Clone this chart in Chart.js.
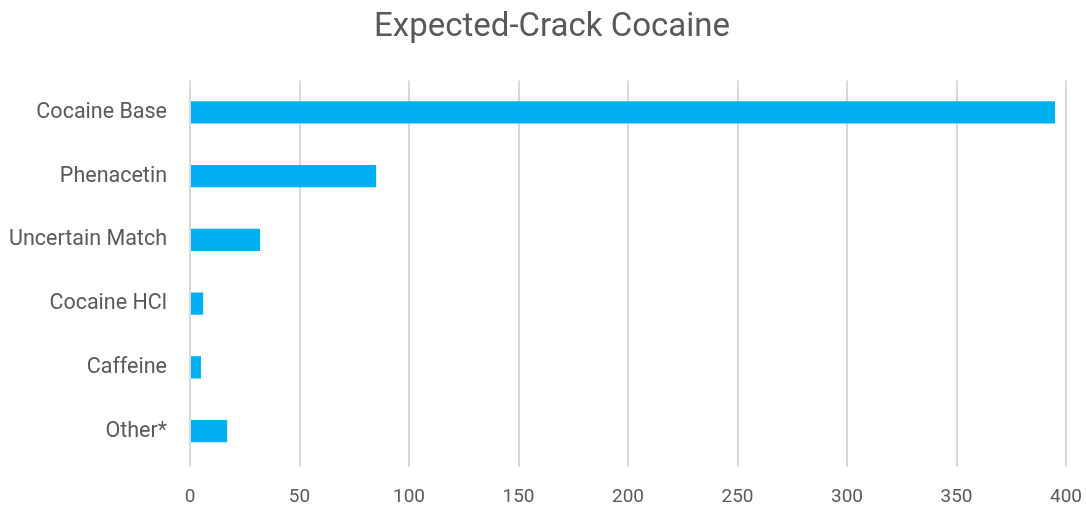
<!DOCTYPE html>
<html>
<head>
<meta charset="utf-8">
<script src="https://cdn.jsdelivr.net/npm/chart.js@4"></script>
<style>
    html, body { margin: 0; padding: 0; background: #fff; }
    .chart-wrap { position: relative; width: 1086px; height: 505px; }
</style>
</head>
<body>
<div class="chart-wrap">
    <canvas id="crack-chart"></canvas>
</div>
<script>(function() { "use strict";

    var categories = ['Cocaine Base', 'Phenacetin', 'Uncertain Match', 'Cocaine HCl', 'Caffeine', 'Other*'];
    var counts = [395, 85, 32, 6, 5, 17];
    var x_ticks = [0, 50, 100, 150, 200, 250, 300, 350, 400];

    var font_family = 'Roboto, "Open Sans", sans-serif';
    var text_color = '#595959';

    var ctx = document.getElementById('crack-chart').getContext('2d');

    // the original title sits a bit right of the canvas centre
    var shiftTitle = {
        id: 'shiftTitle',
        afterLayout: function(chart) {
            if (chart.titleBlock) {
                chart.titleBlock.left += 38;
            }
        }
    };

    new Chart(ctx, {
        type: 'bar',
        data: {
            labels: categories,
            datasets: [{
                label: 'Expected-Crack Cocaine',
                data: counts,
                backgroundColor: '#00b0f0',
                borderWidth: 0,
                categoryPercentage: 1,
                barPercentage: 0.35
            }]
        },
        options: {
            indexAxis: 'y',
            responsive: true,
            maintainAspectRatio: false,
            animation: false,
            layout: {
                padding: { left: 0, right: 20, top: 0, bottom: 0 }
            },
            plugins: {
                legend: { display: false },
                tooltip: { enabled: false },
                title: {
                    display: true,
                    text: 'Expected-Crack Cocaine',
                    color: text_color,
                    font: { family: font_family, size: 33, weight: 'normal' },
                    padding: { top: 8, bottom: 33 }
                }
            },
            scales: {
                x: {
                    min: 0,
                    max: 400,
                    afterBuildTicks: function(axis) {
                        axis.ticks = x_ticks.map(function(v) { return { value: v }; });
                    },
                    afterFit: function(axis) {
                        axis.height = 42;
                        axis.paddingLeft = 0;
                        axis.paddingRight = 0;
                    },
                    grid: {
                        color: '#d9d9d9',
                        lineWidth: 2,
                        drawTicks: true,
                        tickLength: 4
                    },
                    border: { display: false },
                    ticks: {
                        color: text_color,
                        padding: 19,
                        font: { family: font_family, size: 19 }
                    }
                },
                y: {
                    afterFit: function(axis) { axis.width = 190; },
                    grid: { display: false },
                    border: { display: false },
                    ticks: {
                        color: text_color,
                        padding: 15,
                        font: { family: font_family, size: 21.5 }
                    }
                }
            }
        },
        plugins: [shiftTitle]
    });

})();</script>
</body>
</html>
